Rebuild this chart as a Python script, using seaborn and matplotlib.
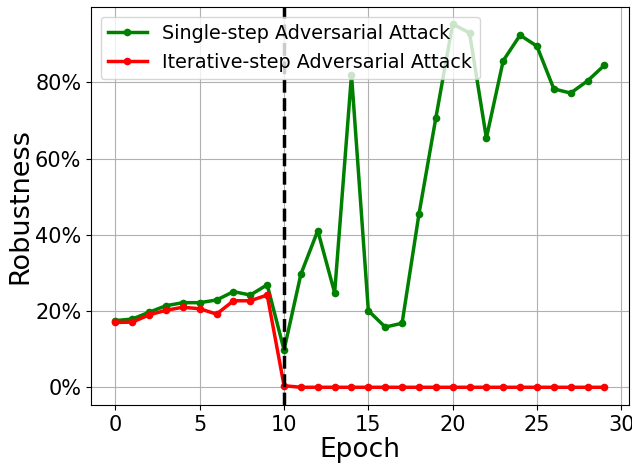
import matplotlib
matplotlib.use("Agg")
import matplotlib.pyplot as plt
import seaborn as sns
import pandas as pd
from matplotlib.ticker import PercentFormatter

epochs = list(range(30))
single_step = [17.5, 17.9, 19.7, 21.4, 22.2, 22.2, 22.9, 25.1, 24.2, 26.9,
               9.8, 29.7, 41.1, 24.8, 82.0, 20.1, 15.8, 16.8, 45.4, 70.6,
               95.3, 93.0, 65.4, 85.7, 92.4, 89.5, 78.3, 77.2, 80.4, 84.5]
iterative_step = [17.0, 17.1, 19.0, 20.2, 21.0, 20.6, 19.2, 22.7, 22.7, 24.2,
                  0.4, 0.0, 0.0, 0.0, 0.0, 0.0, 0.0, 0.0, 0.0, 0.0,
                  0.0, 0.0, 0.0, 0.0, 0.0, 0.0, 0.0, 0.0, 0.0, 0.0]
series_names = ["Single-step Adversarial Attack", "Iterative-step Adversarial Attack"]
series_colors = ["green", "red"]
split_epoch = 10

df = pd.DataFrame({
    "Epoch": epochs * 2,
    "Robustness": [v / 100 for v in single_step] + [v / 100 for v in iterative_step],
    "Series": [series_names[0]] * len(epochs) + [series_names[1]] * len(epochs),
})

fig = plt.figure(figsize=(6.32, 4.63), dpi=100)
ax = fig.add_axes([0.144, 0.1253, 0.851, 0.8597])
sns.lineplot(data=df, x="Epoch", y="Robustness", hue="Series",
             palette=dict(zip(series_names, series_colors)),
             marker="o", markersize=5.5, markeredgewidth=0, linewidth=2.5, ax=ax)
ax.axvline(split_epoch, color="black", linestyle="--", linewidth=2.5)
ax.set_ylim(-0.0465, 0.998)
ax.yaxis.set_major_formatter(PercentFormatter(1.0, decimals=0))
ax.grid(True, color="#b0b0b0", linewidth=0.8)
ax.set_axisbelow(True)
ax.tick_params(labelsize=15)
ax.set_xlabel("Epoch", fontsize=19, labelpad=2)
ax.set_ylabel("Robustness", fontsize=19.5, labelpad=1)
ax.legend(title=None, loc="upper left", fontsize=13.8)
fig.savefig("out.png", dpi=100)
